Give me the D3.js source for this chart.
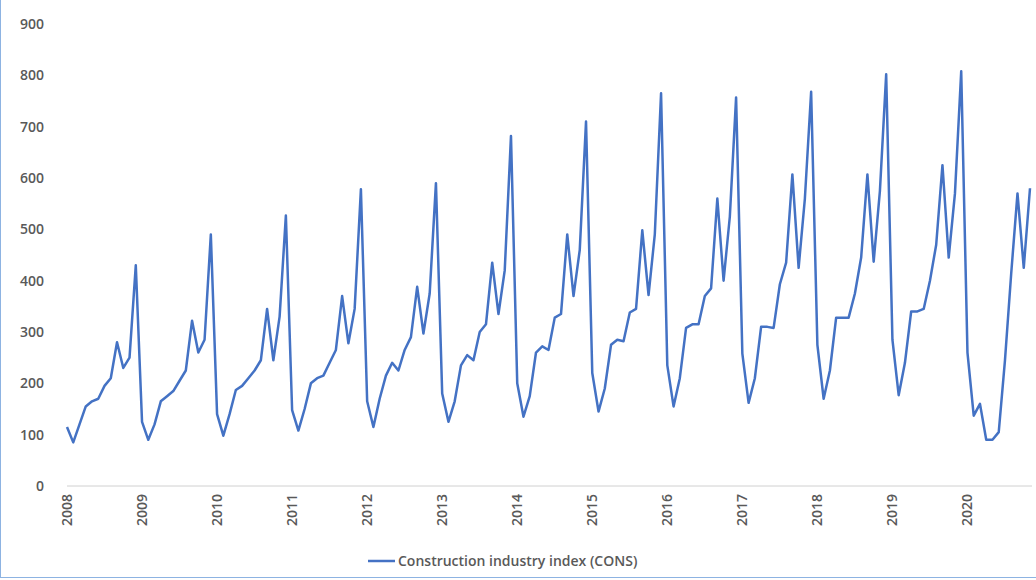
<!DOCTYPE html><html><head><meta charset="utf-8">
<script src="https://cdn.jsdelivr.net/npm/d3@7"></script>
<style>body{margin:0;background:#fff}text{font-family:"Open Sans",sans-serif}</style></head><body>
<svg id="c" width="1036" height="580"></svg>
<script>
const years=[2008,2009,2010,2011,2012,2013,2014,2015,2016,2017,2018,2019,2020];
const yTicks=[0,100,200,300,400,500,600,700,800,900];
const seriesName="Construction industry index (CONS)";
const values=[
115,85,120,155,165,170,195,210,280,230,250,430,
125,90,120,165,175,185,205,225,322,260,285,490,
140,98,140,187,195,210,225,245,345,245,330,527,
148,108,150,200,210,215,240,265,370,278,345,578,
165,115,170,215,240,225,265,290,388,297,375,590,
180,125,165,235,255,245,300,315,435,335,420,682,
200,135,175,260,272,265,328,335,490,370,460,710,
220,145,190,275,285,282,338,345,498,372,490,765,
235,155,210,308,315,315,370,385,560,400,525,757,
258,162,210,310,310,308,393,435,607,425,560,768,
275,170,225,328,328,328,375,445,607,437,575,802,
285,177,240,340,340,345,400,470,625,445,570,808,
260,137,160,90,90,105,245,415,570,425,580];
const svg=d3.select("#c");
svg.append("rect").attr("x",0.5).attr("y",-2).attr("width",1040).attr("height",579.5).attr("fill","none").attr("stroke","#8db3e2");
const x=d3.scaleLinear().domain([0,154]).range([67,1030]);
const y=d3.scaleLinear().domain([0,900]).range([486,24]);
svg.append("line").attr("x1",67).attr("x2",1032).attr("y1",486).attr("y2",486).attr("stroke","#d0d0d0");
svg.selectAll(".yl").data(yTicks).join("text").attr("x",44).attr("y",d=>y(d)+5).attr("text-anchor","end")
 .attr("font-size",14).attr("font-weight",600).attr("fill","#595959").text(d=>d);
svg.selectAll(".xl").data(years).join("text")
 .attr("transform",(d,i)=>`translate(${x(i*12)+5},${494}) rotate(-90)`).attr("text-anchor","end")
 .attr("font-size",14).attr("font-weight",600).attr("fill","#595959").text(d=>d);
svg.append("path").datum(values).attr("fill","none").attr("stroke","#4472c4").attr("stroke-width",2.5)
 .attr("stroke-linejoin","round").attr("d",d3.line().x((d,i)=>x(i)).y(d=>y(d)));
svg.append("line").attr("x1",368).attr("x2",395).attr("y1",561).attr("y2",561).attr("stroke","#4472c4").attr("stroke-width",2.5);
svg.append("text").attr("x",398).attr("y",566).attr("font-size",14).attr("font-weight",600).attr("fill","#595959").text(seriesName);
</script></body></html>
